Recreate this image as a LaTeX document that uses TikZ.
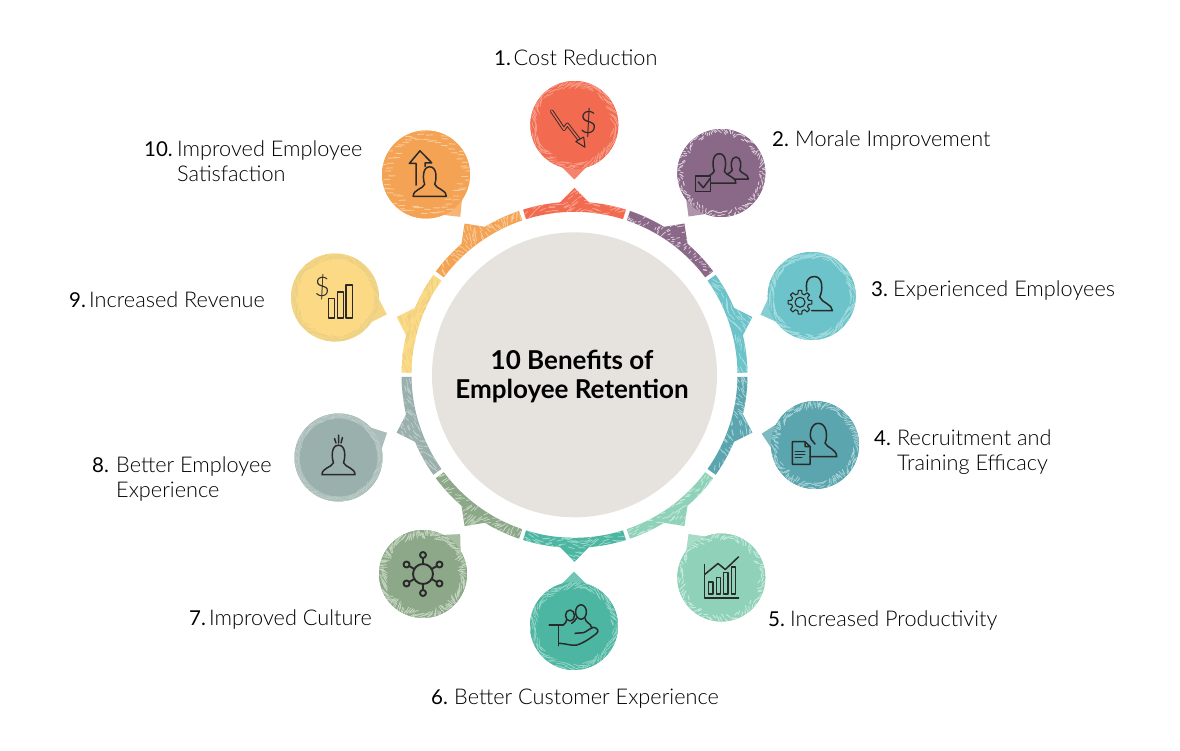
\documentclass[tikz,border=0pt]{standalone}
\usepackage{fontspec}
\setmainfont{Lato}
\newfontfamily\thinfont{Lato Light}
\usetikzlibrary{calc}

% palette: fill and lighter rim of each benefit
\definecolor{fa}{HTML}{F26B50}\definecolor{ra}{HTML}{F8A08C}
\definecolor{fb}{HTML}{8A6887}\definecolor{rb}{HTML}{D9CBD7}
\definecolor{fc}{HTML}{6CC3C9}\definecolor{rc}{HTML}{A5DCDF}
\definecolor{fd}{HTML}{5AA5AE}\definecolor{rd}{HTML}{A9D3D8}
\definecolor{fe}{HTML}{90D1B9}\definecolor{re}{HTML}{C4EADC}
\definecolor{ff}{HTML}{4DB6A2}\definecolor{rf}{HTML}{9BD8CB}
\definecolor{fg}{HTML}{8CA889}\definecolor{rg}{HTML}{C5D6C0}
\definecolor{fh}{HTML}{9AB0AC}\definecolor{rh}{HTML}{BFCECB}
\definecolor{fi}{HTML}{FBD985}\definecolor{ri}{HTML}{E9D084}
\definecolor{fj}{HTML}{F4A354}\definecolor{rj}{HTML}{F9CB9B}
\definecolor{hub}{HTML}{E6E3DE}
\definecolor{ink}{HTML}{2A2A2A}

\tikzset{
  x=1pt,y=-1pt,
  bubblebase/.style={circle,minimum size=88pt,inner sep=0pt},
  icon/.style={draw=ink,line width=1.5pt,line join=round,line cap=round},
  lbl/.style={anchor=west,inner sep=0pt,align=left,text=black,
    font=\fontsize{21.7}{25}\selectfont},
  titlebox/.style={align=center,inner sep=0pt,text=black,
    font=\fontsize{26}{29}\selectfont\bfseries},
  glyph/.style={inner sep=0pt,text=ink,font=\thinfont\fontsize{#1}{#1}\selectfont},
}

% short strokes spread evenly round a band, locally parallel in patches:
% #1 count, #2 inner radius, #3 outer radius, #4 stroke length, #5 width,
% #6 colour, #7 multiple of the position angle, #8 base direction, #9 patch swing
\newcommand\strokes[9]{%
  \foreach \i in {1,...,#1}{
    \pgfmathsetmacro\pa{10*mod(\i*13.7508,36)}
    \pgfmathsetmacro\pr{#2+(#3-#2)*rnd}
    \pgfmathsetmacro\pd{#7*\pa+#8+#9*sin(5*\pa)}
    \draw[#6,line width=#5pt,line cap=round,shift={(\pa:\pr)}]
      (\pd:-#4/2) -- (\pd:#4/2);
  }}

% ring segment with its outward point: #1 centre angle, #2 fill, #3 texture colour,
% #4 stroke direction relative to the radius, #5 stroke length
\newcommand\ringseg[5]{%
  \begin{scope}[shift={(hubc)}]
    \def\segpath{plot[domain=#1-17.3:#1-4.8,samples=10] (\x:173) -- (#1:187)
      -- plot[domain=#1+4.8:#1+17.3,samples=10] (\x:173)
      -- plot[domain=#1+17.3:#1-17.3,samples=25] (\x:163) -- cycle}
    \fill[#2] \segpath;
    \clip \segpath;
    \foreach \i in {1,...,110}{
      \pgfmathsetmacro\pa{#1-17.3+34.6*mod(\i*.618034,1)}
      \pgfmathsetmacro\pr{163+24*rnd}
      \pgfmathsetmacro\pd{\pa+#4+25*sin(25*\pa)}
      \draw[#3,line width=.8pt,line cap=round,shift={(\pa:\pr)}]
        (\pd:-#5/2) -- (\pd:#5/2);
    }
  \end{scope}}

% bubble: #1 name, #2 #3 centre, #4 direction of the tip, #5 fill, #6 rim, #7 rim band colour
\newcommand\bubble[7]{%
  \begin{scope}[shift={(#2,#3)}]
    \fill[#6!45!#5] (#4-17:43.5) -- (#4:54.5) -- (#4+17:43.5) -- cycle;
    \node[bubblebase,fill=#5] (#1) at (0,0) {};
    \draw[#7,line width=5pt] (0,0) circle[radius=41.5];
  \end{scope}}

% head and shoulders: #1 #2 position, #3 scale, #4 path options
\newcommand\bust[4]{%
  \draw[icon,#4,shift={(#1,#2)},scale=#3]
    (-16.5,17) .. controls (-16.5,10) and (-7,10) .. (-5,5)
    .. controls (-7,0) and (-7.5,-12.5) .. (0,-12.5)
    .. controls (7.5,-12.5) and (7,0) .. (5,5)
    .. controls (7,10) and (16.5,10) .. (16.5,17) -- cycle;}

\begin{document}
\begin{tikzpicture}
\pgfmathsetseed{4711}
\useasboundingbox (0,0) rectangle (1180,751);
\coordinate (hubc) at (574.5,374.8);

% centre disc and title
\node[circle,fill=hub,minimum size=285pt,inner sep=0pt] (hub) at (hubc) {};
\node[titlebox] (title) at (572,376) {10 Benefits of\\Employee Retention};

% segmented ring
\ringseg{-90}{fa}{ra}{75}{6}
\ringseg{-54}{fb}{rb}{20}{3}
\ringseg{-18}{fc}{rc}{85}{6}
\ringseg{18}{fd}{rd}{40}{5}
\ringseg{54}{fe}{re}{100}{4}
\ringseg{90}{ff}{rf}{85}{6}
\ringseg{126}{fg}{rg}{30}{6}
\ringseg{162}{fh}{rh}{60}{5}
\ringseg{198}{fi}{ri}{80}{6}
\ringseg{234}{fj}{rj}{0}{6}

% bubbles with their textured rims
\bubble{ba}{574.3}{125}{90}{fa}{ra}{fa}
\begin{scope}[shift={(ba.center)}]
  \clip (0,0) circle[radius=44]; \strokes{170}{38}{44}{6}{.7}{ra}{1}{75}{25}
\end{scope}
\bubble{bb}{721.3}{173}{127}{fb}{rb}{fb}
\begin{scope}[shift={(bb.center)}]
  \clip (0,0) circle[radius=44]; \strokes{150}{38.5}{44}{3}{.9}{rb}{1}{20}{70}
\end{scope}
\bubble{bc}{811.7}{296}{160}{fc}{rc}{fc}
\begin{scope}[shift={(bc.center)}]
  \clip (0,0) circle[radius=44]; \strokes{190}{38}{44}{7}{.7}{rc}{1}{85}{20}
\end{scope}
\bubble{bd}{815}{445}{192}{fd}{rd}{fd}
\begin{scope}[shift={(bd.center)}]
  \clip (0,0) circle[radius=44]; \strokes{170}{38}{44}{5}{.8}{rd}{1}{45}{50}
\end{scope}
\bubble{be}{721.3}{577.5}{233}{fe}{re}{fe}
\begin{scope}[shift={(be.center)}]
  \clip (0,0) circle[radius=44]; \strokes{110}{38}{44}{4}{1}{re}{1}{90}{60}
\end{scope}
\bubble{bf}{574}{626}{270}{ff}{rf}{ff}
\begin{scope}[shift={(bf.center)}]
  \clip (0,0) circle[radius=44]; \strokes{170}{38}{44}{6}{.6}{rf}{1}{85}{30}
\end{scope}
\bubble{bg}{423}{574}{313}{fg}{rg}{fg}
\begin{scope}[shift={(bg.center)}]
  \clip (0,0) circle[radius=44]; \strokes{190}{38}{44}{6}{.8}{rg}{1}{30}{50}
\end{scope}
\bubble{bh}{338.5}{457.5}{333}{fh}{rh}{rh!55!fh}
\begin{scope}[shift={(bh.center)}]
  \clip (0,0) circle[radius=44]; \strokes{110}{39}{44}{5}{.6}{rh}{1}{80}{30}
\end{scope}
\bubble{bi}{335}{297.5}{18}{fi}{ri}{ri!45!fi}
\begin{scope}[shift={(bi.center)}]
  \clip (0,0) circle[radius=44]; \strokes{110}{38}{44}{6}{.7}{ri}{1}{85}{30}
\end{scope}
\bubble{bj}{426}{174.5}{51}{fj}{rj}{fj}
\begin{scope}[shift={(bj.center)}]
  \clip (0,0) circle[radius=44]; \strokes{70}{33}{44}{6}{.9}{rj}{0}{0}{3}
\end{scope}

% icon 1: falling arrow and dollar sign
\begin{scope}[shift={(ba.center)}]
  \draw[icon,line width=.9pt,double=fa,double distance=1.6pt]
    (-22.7,-14) -- (-10.3,4.3) -- (-7,-.7) -- (5.7,15.7);
  \draw[icon,line width=1pt,fill=fa] (1.5,16.5) -- (10.7,22.3) -- (9.4,12) -- cycle;
  \node[glyph=31] (dollar) at (14,-2) {\$};
\end{scope}

% icon 2: two people with a check box
\begin{scope}[shift={(bb.center)}]
  \bust{14.7}{-6.6}{.75}{}
  \bust{-2}{-6.8}{1}{fill=fb}
  \draw[icon,fill=fb] (-25.7,3) rectangle (-10.7,18.3);
  \draw[icon] (-23,9) -- (-18,14.7) -- (-11.3,5.7);
\end{scope}

% icon 3: person with gear
\begin{scope}[shift={(bc.center)}]
  \draw[icon] (0,14.7) -- (20.7,14.7) .. controls (20.7,8) and (10,7) .. (8,1)
    .. controls (11,-5) and (12,-19.5) .. (2.5,-19.5)
    .. controls (-3,-19.5) and (-5.5,-15) .. (-5.3,-10) -- (-5,-5);
  \draw[icon,line width=1.1pt,shift={(-11.7,6.3)}] (-14:8.7)
    \foreach \a in {0,45,...,315}{
      -- (\a-14:8.7) -- (\a-8:12) -- (\a+8:12) -- (\a+14:8.7)} -- cycle
    (0,0) circle[radius=5];
\end{scope}

% icon 4: person with document
\begin{scope}[shift={(bd.center)}]
  \draw[icon] (-5,11.7) -- (21.7,11.7) .. controls (21.7,4) and (12,3) .. (10,-2)
    .. controls (13,-8) and (12,-21.7) .. (3.3,-21.7)
    .. controls (-5,-21.7) and (-6,-8) .. (-3.3,-5) -- (0,-1);
  \draw[icon] (-22.7,-3.3) -- (-10,-3.3) -- (-5,1.5) -- (-5,19.3) -- (-22.7,19.3) -- cycle
    (-10,-3.3) -- (-10,1.5) -- (-5,1.5);
  \draw[icon,line width=.9pt] (-20,6) -- (-10,6) (-20,9) -- (-10,9) (-20,12) -- (-13,12);
\end{scope}

% icon 5: bar chart with trend line
\begin{scope}[shift={(be.center)}]
  \draw[icon] (-16.7,-13) -- (-16.7,20.3) -- (17.3,20.3);
  \draw[icon] (-12.7,4.3) rectangle (-8.3,16.7) (-5,0) rectangle (-.7,16.7)
    (2.3,-5) rectangle (6.7,16.7) (10,-10.7) rectangle (14.3,16.7);
  \draw[icon] (-16.7,-3) -- (-3.3,-14) -- (4,-8) -- (17.3,-20.7);
\end{scope}

% icon 6: hand holding two people
\begin{scope}[shift={(bf.center)}]
  \draw[icon] (-24.7,-1) -- (-10.7,-1) (-15.7,-1) -- (-15.7,19.7);
  \draw[icon] (-14.7,17.3) .. controls (-8,17.5) and (-3,20) .. (2.7,19)
    .. controls (10,17) and (18,11) .. (22.7,7.3)
    .. controls (25,5) and (24,2) .. (19.3,1.3)
    .. controls (15,3) and (12,6) .. (9.3,6.7) -- (1,7.3);
  \draw[icon] (-4,-10.5) ellipse[x radius=4.5,y radius=5.5];
  \draw[icon,fill=ff] (7,-14) ellipse[x radius=5.4,y radius=7.2];
  \draw[icon] (-10.7,-1) .. controls (-9,-3) and (-7,-4) .. (-7.5,-6);
  \draw[icon] (2.5,-8) .. controls (2.5,-5) and (-1,-5) .. (-2.3,-2.7)
    (11,-8) .. controls (11,-3) and (17.5,-3) .. (17.7,2);
\end{scope}

% icon 7: hub and spokes
\begin{scope}[shift={(bg.center)}]
  \draw[icon,line width=1.9pt] (0,0) circle[radius=10];
  \foreach \a in {30,90,...,330}{
    \draw[icon,line width=1.9pt] (\a:10) -- (\a:16);
    \draw[icon,line width=1.9pt] (\a:19) circle[radius=3];
  }
\end{scope}

% icon 8: person with burst above the head
\begin{scope}[shift={(bh.center)}]
  \bust{0}{.2}{1}{}
  \draw[icon] (-4,-19) -- (-2.5,-14.5) (0,-22.3) -- (0,-14.5) (4,-20) -- (2.5,-14.5);
\end{scope}

% icon 9: dollar sign and bars
\begin{scope}[shift={(bi.center)}]
  \node[glyph=27] (dollarb) at (-12.7,-10.7) {\$};
  \draw[icon] (-6.3,1) rectangle (-.7,20.3) (2.3,-5.7) rectangle (8.3,20.3)
    (11,-12.3) rectangle (17.3,20.3);
\end{scope}

% icon 10: person with rising arrow
\begin{scope}[shift={(bj.center)}]
  \draw[icon] (-10,10.7) -- (-10,-11) -- (-16.7,-11) -- (-6,-23.7) -- (5.7,-11.7)
    -- (-1,-11.7) -- (-1,-8);
  \bust{3.7}{4.8}{1}{fill=fj}
\end{scope}

% labels: number in the regular weight, wording in the light weight
\newcommand\lab[6]{\node[lbl] (#1) at (#2,#3) {\makebox[#4pt][l]{\fontsize{20.5}{25}\selectfont #5}\thinfont #6};}
\lab{la}{494}{58}{19.5}{1.}{Cost Reduction}
\lab{lb}{772}{140.5}{23}{2.}{Morale Improvement}
\lab{lc}{871}{290.5}{22}{3.}{Experienced Employees}
\lab{ld}{874}{452}{23}{4.}{Recruitment and\\\makebox[23pt]{}\thinfont Training Efficacy}
\lab{le}{768}{620.5}{22}{5.}{Increased Productivity}
\lab{lf}{431}{698.5}{23}{6.}{Better Customer Experience}
\lab{lg}{189}{620}{20}{7.}{Improved Culture}
\lab{lh}{92}{479}{24}{8.}{Better Employee\\\makebox[24pt]{}\thinfont Experience}
\lab{li}{69}{300}{20}{9.}{Increased Revenue}
\lab{lj}{144}{161}{33}{10.}{Improved Employee\\\makebox[33pt]{}\thinfont Satisfaction}
\end{tikzpicture}
\end{document}
